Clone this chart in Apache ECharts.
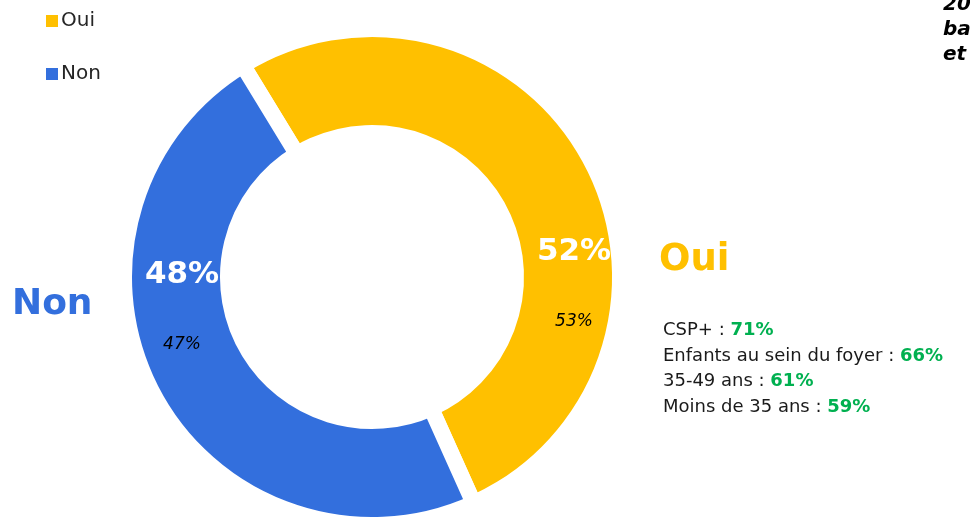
<!DOCTYPE html>
<html>
<head>
<meta charset="utf-8">
<style>
  html, body { margin: 0; padding: 0; background: #fff; }
  #chart { width: 970px; height: 518px; }
</style>
<script src="https://cdn.jsdelivr.net/npm/echarts@6/dist/echarts.min.js"></script>
</head>
<body>
<div id="chart"></div>
<script>
// données
var categories = ['Oui', 'Non'];
var values = [52, 48];
var previous = [53, 47];
var colors = ['#FFC000', '#336FDD'];
var profils = ['CSP+', 'Enfants au sein du foyer', '35-49 ans', 'Moins de 35 ans'];
var profilValues = [71, 66, 61, 59];
var noteLines = ['2021 vs 2020', 'base : ensemble', 'et comparaison'];

var FONT = '"DejaVu Sans"';

var myChart = echarts.init(document.getElementById('chart'));

// position des étiquettes dans l'anneau
var labelPos = [[574, 283], [182, 306]];

var data = [];
for (var i = 0; i < categories.length; i++) {
    data.push({value: values[i], name: categories[i], prev: previous[i], itemStyle: {color: colors[i]}});
}

var profilText = [];
for (var j = 0; j < profils.length; j++) {
    profilText.push(profils[j] + ' : {g|' + profilValues[j] + '%}');
}

var option = {
    animation: false,
    legend: {
        orient: 'vertical',
        left: 41,
        top: 6,
        itemWidth: 12,
        itemHeight: 12,
        itemGap: 33,
        icon: 'rect',
        data: categories,
        itemStyle: {borderWidth: 0},
        textStyle: {fontFamily: FONT, fontSize: 20, color: '#262626', padding: [0, 0, 0, -2]}
    },
    graphic: [
        {type: 'text', left: 659, top: 242, style: {text: categories[0], fontFamily: FONT, fontWeight: 'bold', fontSize: 37, fill: colors[0]}},
        {type: 'text', left: 12, top: 287, style: {text: categories[1], fontFamily: FONT, fontWeight: 'bold', fontSize: 36, fill: colors[1]}},
        {type: 'text', left: 663, top: 318, style: {
            text: profilText.join('\n'),
            fontFamily: FONT, fontSize: 18, lineHeight: 25.5, fill: '#1a1a1a',
            rich: {g: {fontFamily: FONT, fontSize: 18, fontWeight: 'bold', fill: '#00B050', lineHeight: 25.5}}
        }},
        {type: 'text', left: 943, top: -8, style: {
            text: noteLines.join('\n'),
            fontFamily: FONT, fontSize: 20, fontWeight: 'bold', fontStyle: 'italic', lineHeight: 25, fill: '#000'
        }}
    ],
    series: [{
        type: 'pie',
        center: [372, 277],
        radius: [144, 248],
        startAngle: 121.4,
        clockwise: true,
        avoidLabelOverlap: false,
        itemStyle: {borderColor: '#fff', borderWidth: 16},
        label: {
            show: true,
            position: 'inside',
            formatter: function (p) {
                return '{a|' + p.value + '%}\n{s|}\n{b|' + p.data.prev + '%}';
            },
            rich: {
                a: {fontFamily: FONT, fontSize: 31, fontWeight: 'bold', color: '#fff', lineHeight: 44, align: 'center'},
                s: {lineHeight: 34, fontSize: 10},
                b: {fontFamily: FONT, fontSize: 17, fontStyle: 'italic', color: '#000', lineHeight: 28, align: 'center'}
            }
        },
        labelLine: {show: false},
        labelLayout: function (params) {
            var p = labelPos[params.dataIndex];
            return {x: p[0], y: p[1], align: 'center', verticalAlign: 'middle'};
        },
        emphasis: {disabled: true},
        data: data
    }]
};
myChart.setOption(option);
</script>
</body>
</html>
